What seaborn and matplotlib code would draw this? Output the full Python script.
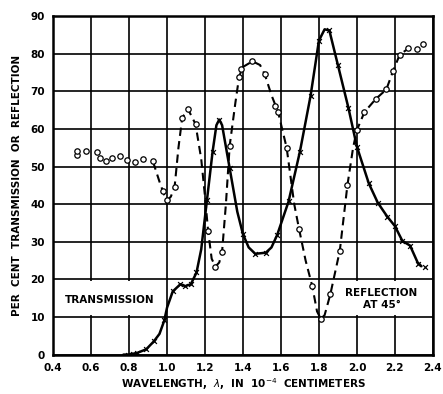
import seaborn as sns
import matplotlib.pyplot as plt
from matplotlib.patches import Rectangle
import pandas as pd

# reflection at 45 deg - dashed curve
refl_curve_x = [0.926, 0.96, 0.985, 1.0, 1.02, 1.04, 1.06, 1.08, 1.11, 1.15, 1.18, 1.2, 1.216,
                1.235, 1.255, 1.275, 1.29, 1.31, 1.33, 1.36, 1.38, 1.4, 1.45, 1.49, 1.515, 1.55,
                1.585, 1.63, 1.67, 1.695, 1.73, 1.765, 1.79, 1.81, 1.83, 1.86, 1.91, 1.95, 1.98,
                2.0, 2.04, 2.1, 2.155, 2.19, 2.225, 2.26]
refl_curve_y = [51.3, 46, 42.5, 41, 42, 44.7, 55, 63, 65.3, 61.3, 52, 42, 33,
                25.5, 23.4, 24.5, 27.4, 40, 55.6, 67, 74, 76.5, 78, 77, 74.5, 69,
                64.5, 55, 40, 33.5, 25, 18.2, 11.5, 9.5, 10.5, 16, 27.6, 45, 55,
                59.7, 64.5, 68, 70.5, 75.3, 79.7, 81]
# reflection measured points (circles)
refl_pts_x = [0.525, 0.525, 0.574, 0.63, 0.647, 0.68, 0.71, 0.75, 0.79, 0.83, 0.875, 0.926,
              0.98, 1.0, 1.04, 1.08, 1.11, 1.15, 1.216, 1.255, 1.29, 1.33, 1.38, 1.39, 1.45,
              1.515, 1.57, 1.585, 1.63, 1.695, 1.765, 1.81, 1.86, 1.91, 1.95, 2.0, 2.04, 2.1,
              2.155, 2.19, 2.225, 2.27, 2.315, 2.35]
refl_pts_y = [53, 54.2, 54.2, 53.8, 52.3, 51.5, 52.3, 52.8, 51.8, 51.3, 52, 51.4,
              43.4, 41, 44.7, 63, 65.3, 61.3, 33, 23.4, 27.4, 55.6, 73.7, 76, 78,
              74.5, 66, 64.5, 55, 33.5, 18.2, 9.5, 16, 27.6, 45, 59.7, 64.5, 68,
              70.5, 75.3, 79.7, 81.5, 81.3, 82.6]

# transmission - solid curve
trans_curve_x = [0.77, 0.795, 0.84, 0.89, 0.93, 0.96, 0.985, 1.0, 1.03, 1.07, 1.095, 1.125,
                 1.155, 1.18, 1.21, 1.24, 1.26, 1.275, 1.29, 1.33, 1.37, 1.4, 1.43, 1.465,
                 1.52, 1.55, 1.58, 1.64, 1.7, 1.756, 1.8, 1.83, 1.855, 1.9, 1.955, 2.0, 2.063,
                 2.11, 2.16, 2.2, 2.24, 2.28, 2.32, 2.34]
trans_curve_y = [0, 0, 0.4, 1.4, 3.5, 5.5, 9, 12.5, 16.8, 18.7, 18.2, 18.7,
                 21.8, 28, 41, 54, 61, 62.5, 61, 49.5, 38, 32, 28.5, 26.8,
                 27.1, 28.5, 31.8, 40.7, 54, 68.8, 83.5, 86.5, 86.2, 77, 65.7, 55.3, 45.5,
                 40.4, 36.7, 34.2, 30.2, 29, 24.5, 23.5]
trans_pts_x = [0.795, 0.82, 0.84, 0.89, 0.93, 0.985, 1.03, 1.07, 1.095, 1.125, 1.155, 1.21,
               1.24, 1.275, 1.33, 1.4, 1.465, 1.52, 1.58, 1.64, 1.7, 1.756, 1.8, 1.855, 1.9,
               1.955, 2.0, 2.063, 2.11, 2.16, 2.2, 2.24, 2.28, 2.32, 2.36]
trans_pts_y = [0, 0.2, 0.5, 1.4, 3.5, 9.3, 16.8, 18.7, 18.2, 18.7, 22, 41,
               54, 62.5, 49.5, 32, 26.8, 27.1, 31.8, 40.8, 54, 68.8, 83.5, 86.3, 77,
               65.7, 55.3, 45.5, 40.4, 36.7, 34.2, 30.2, 29, 24, 23.3]

x_ticks = [0.4, 0.6, 0.8, 1.0, 1.2, 1.4, 1.6, 1.8, 2.0, 2.2, 2.4]
x_labels = ["0.4", "0.6", "0.8", "1.0", "1.2", "1.4", "1.6", "1.8", "2.0", "2.2", "2.4"]
y_ticks = [0, 10, 20, 30, 40, 50, 60, 70, 80, 90]

sns.set_theme(style="white")
plt.rcParams['font.family'] = ['DejaVu Sans']
plt.rcParams['text.color'] = 'black'
plt.rcParams['axes.labelcolor'] = 'black'
plt.rcParams['xtick.color'] = 'black'
plt.rcParams['ytick.color'] = 'black'

fig = plt.figure(figsize=(4.43, 3.94), dpi=100)
ax = fig.add_axes([0.12, 0.1, 0.857, 0.859])

ax.set_xlim(0.4, 2.4)
ax.set_ylim(0, 90)
ax.set_xticks(x_ticks)
ax.set_xticklabels(x_labels)
ax.set_yticks(y_ticks)
ax.grid(True, color="black", linewidth=1.2)
ax.set_axisbelow(True)
ax.tick_params(axis="x", length=0, labelsize=7.5, pad=6)
ax.tick_params(axis="y", length=0, labelsize=7.5, pad=6)
for lab in ax.get_xticklabels() + ax.get_yticklabels():
    lab.set_fontweight("bold")
for s in ax.spines.values():
    s.set_color("black")
    s.set_linewidth(1.8)

# white boxes under the labels
ax.add_patch(Rectangle((0.405, 10.4), 0.575, 9.2, facecolor="white", edgecolor="none", zorder=1.5))
ax.add_patch(Rectangle((1.9, 10.4), 0.495, 9.2, facecolor="white", edgecolor="none", zorder=1.5))

df_r = pd.DataFrame({"x": refl_curve_x, "y": refl_curve_y})
df_t = pd.DataFrame({"x": trans_curve_x, "y": trans_curve_y})

sns.lineplot(data=df_r, x="x", y="y", ax=ax, color="black", linewidth=1.5,
             estimator=None, sort=False, dashes=False, linestyle=(0, (4, 2.5)), zorder=3)
sns.lineplot(data=df_t, x="x", y="y", ax=ax, color="black", linewidth=1.8,
             estimator=None, sort=False, zorder=3)

sns.scatterplot(x=refl_pts_x, y=refl_pts_y, ax=ax, marker="o", s=15,
                facecolor="white", edgecolor="black", linewidth=0.9, zorder=4)
sns.scatterplot(x=trans_pts_x, y=trans_pts_y, ax=ax, marker="x", s=12,
                color="black", linewidth=0.9, zorder=4)

ax.text(0.70, 14.6, "TRANSMISSION", ha="center", va="center", fontsize=7.5,
        fontweight="bold", zorder=5)
ax.text(2.13, 14.8, "REFLECTION\nAT 45°", ha="center", va="center", fontsize=7.5,
        fontweight="bold", linespacing=1.15, zorder=5)

ax.set_xlabel(r"WAVELENGTH,  $\lambda$,  IN  10$^{-4}$  CENTIMETERS", fontsize=7.5,
              fontweight="bold", labelpad=2)
ax.set_ylabel("PER  CENT  TRANSMISSION  OR  REFLECTION", fontsize=7.5,
              fontweight="bold", labelpad=6)

fig.savefig("out.png", dpi=100, facecolor="white")
